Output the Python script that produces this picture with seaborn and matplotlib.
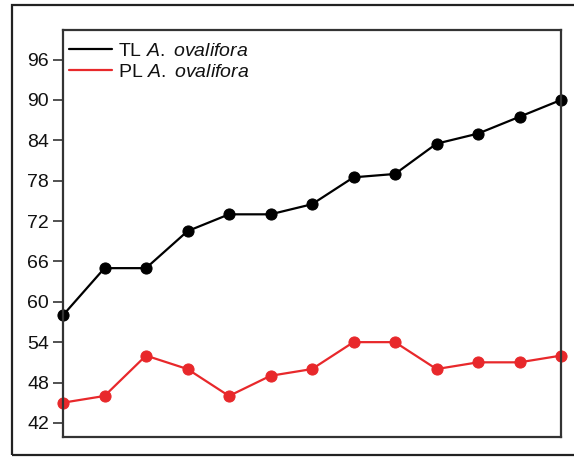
import seaborn as sns
import matplotlib.pyplot as plt
import matplotlib.patches as patches

# values
samples = list(range(13))
tl_values = [58, 65, 65, 70.5, 73, 73, 74.5, 78.5, 79, 83.5, 85, 87.5, 90]
pl_values = [45, 46, 52, 50, 46, 49, 50, 54, 54, 50, 51, 51, 52]
y_ticks = [42, 48, 54, 60, 66, 72, 78, 84, 90, 96]

sns.set_style("white")
plt.rcParams['font.family'] = ['Liberation Sans', 'DejaVu Sans']
plt.rcParams['mathtext.fontset'] = 'custom'
plt.rcParams['mathtext.it'] = 'Liberation Sans:italic'
plt.rcParams['mathtext.rm'] = 'Liberation Sans'

fig = plt.figure(figsize=(5.74, 4.57), dpi=100)
ax = fig.add_axes([63 / 574, 1 - 437 / 457, (561 - 63) / 574, (437 - 30) / 457])

# outer frame around the figure
fig.patches.append(patches.Rectangle((12 / 574, 1 - 455 / 457), 0.99, 450 / 457,
                                     transform=fig.transFigure, fill=False,
                                     edgecolor='#222222', linewidth=1.6))

sns.lineplot(x=samples, y=tl_values, ax=ax, color='black', marker='o',
             markersize=8, markeredgecolor='black', linewidth=1.6,
             label=r'TL $\it{A.}$ $\it{ovalifora}$', clip_on=False)
sns.lineplot(x=samples, y=pl_values, ax=ax, color='#e8282b', marker='o',
             markersize=8, markeredgecolor='#e8282b', linewidth=1.6,
             label=r'PL $\it{A.}$ $\it{ovalifora}$', clip_on=False)

ax.set_xlim(0, 12)
ax.set_ylim(39.9, 100.4)
ax.set_yticks(y_ticks)
ax.set_xticks([])
ax.tick_params(axis='y', direction='out', length=7, width=1.2, labelsize=14,
               left=True, color='#333333', labelcolor='#111111', pad=3)
for s in ax.spines.values():
    s.set_color('#333333')
    s.set_linewidth(1.6)

leg = ax.legend(loc='upper left', bbox_to_anchor=(0.0, 0.985), frameon=False,
                fontsize=14, handlelength=2.2, handletextpad=0.35,
                borderaxespad=0.1, labelspacing=0.2, borderpad=0.2)
for t in leg.get_texts():
    t.set_color('#111111')
for h in leg.get_lines():
    h.set_marker('')

fig.savefig('out.png', dpi=100)
